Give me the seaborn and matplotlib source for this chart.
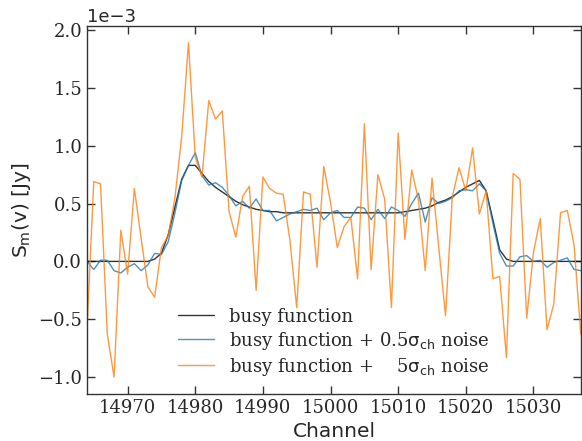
import numpy as np
import pandas as pd
import matplotlib
matplotlib.use("Agg")
import matplotlib.pyplot as plt
import seaborn as sns

# channel axis
channels = np.arange(14964, 15038)

# busy function (units of 1e-3 Jy)
busy = [0, 0, 0, 0, 0, 0, 0, 0, 0, 0,
        0.02, 0.07, 0.23, 0.47, 0.71, 0.83, 0.83, 0.76, 0.69, 0.64,
        0.60, 0.56, 0.52, 0.49, 0.47, 0.45, 0.44, 0.43, 0.43, 0.42,
        0.42, 0.42, 0.42, 0.42, 0.42, 0.42, 0.42, 0.42, 0.42, 0.42,
        0.42, 0.42, 0.42, 0.42, 0.42, 0.42,
        0.42, 0.43, 0.44, 0.45, 0.46, 0.48, 0.51, 0.53, 0.56, 0.60,
        0.64, 0.67, 0.70, 0.61, 0.36, 0.10, 0.02,
        0, 0, 0, 0, 0, 0, 0, 0, 0, 0, 0]

# busy function + 0.5 sigma noise
busy_low = [0.00, -0.07, 0.01, 0.01, -0.08, -0.10, -0.05, -0.02, -0.08, -0.03,
            0.07, 0.06, 0.17, 0.42, 0.70, 0.83, 0.94, 0.74, 0.66, 0.68,
            0.64, 0.57, 0.48, 0.52, 0.46, 0.54, 0.44, 0.44, 0.35, 0.38,
            0.41, 0.43, 0.45, 0.44, 0.46, 0.36, 0.42, 0.44, 0.38, 0.38,
            0.47, 0.46, 0.36, 0.45, 0.37, 0.47,
            0.44, 0.39, 0.50, 0.59, 0.34, 0.55, 0.50, 0.52, 0.55, 0.61,
            0.62, 0.61, 0.67, 0.61, 0.33, 0.07, -0.04,
            -0.04, 0.04, 0.05, 0.00, 0.01, -0.05, -0.01, 0.01, 0.03, -0.07, -0.08]

# busy function + 5 sigma noise
busy_high = [-0.58, 0.69, 0.67, -0.63, -1.00, 0.27, -0.11, 0.63, 0.20, -0.22,
             -0.31, 0.12, 0.22, 0.55, 1.08, 1.89, 0.90, 0.73, 1.39, 1.23,
             1.30, 0.43, 0.21, 0.56, 0.65, -0.25, 0.73, 0.63, 0.59, 0.58,
             0.18, -0.40, 0.60, 0.58, -0.05, 0.82, 0.51, 0.12, 0.30, 0.38,
             -0.15, 1.19, -0.07, 0.75, 0.54, -0.40,
             1.11, 0.19, 0.79, 0.53, -0.08, 0.72, 0.12, -0.47, 0.56, 0.81,
             0.61, 0.98, 0.41, 0.61, -0.15, -0.13, -0.83,
             0.76, 0.71, -0.49, 0.08, 0.37, -0.59, -0.37, 0.42, 0.44, 0.14, -0.63]

labels = ["busy function",
          r"busy function + 0.5$\mathrm{\sigma_{ch}}$ noise",
          r"busy function +    5$\mathrm{\sigma_{ch}}$ noise"]
colors = ["black", "#1f77b4", "#ff7f0e"]

sns.set_style("ticks")
plt.rcParams["mathtext.fontset"] = "dejavusans"

fig, ax = plt.subplots(figsize=(5.82, 4.41), dpi=100)
fig.subplots_adjust(left=0.1495, right=0.998, bottom=0.107, top=0.941)

for vals, lab, col in zip([busy, busy_low, busy_high], labels, colors):
    sns.lineplot(x=channels, y=np.array(vals) * 1e-3, ax=ax, color=col,
                 label=lab, lw=1.0, alpha=0.8)

ax.set_xlim(channels.min(), channels.max())
ax.ticklabel_format(axis="y", style="sci", scilimits=(-3, -3))
ax.set_xlabel("Channel", fontsize=14.5)
ax.set_ylabel(r"$\mathrm{S_m(v)\ [Jy]}$", fontsize=14.5)

ax.tick_params(direction="in", top=True, right=True, length=6, width=1,
               labelsize=13, color="#333333")
for lab in ax.get_xticklabels() + ax.get_yticklabels():
    lab.set_family("serif")
ax.yaxis.get_offset_text().set_fontsize(13)
for sp in ax.spines.values():
    sp.set_color("#333333")
    sp.set_linewidth(1.0)

ax.legend(loc="lower center", frameon=False,
          prop={"family": "serif", "size": 13}, labelspacing=0.22)

fig.savefig("out.png", dpi=100)
